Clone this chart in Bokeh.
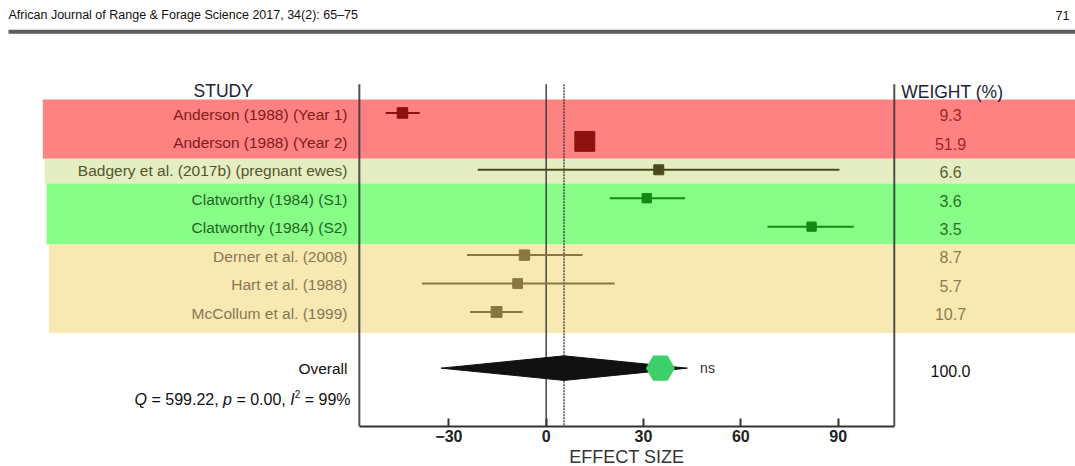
from bokeh.plotting import figure
from bokeh.models import Range1d, LinearAxis, FixedTicker, Label, Title
from bokeh.core.properties import value
from bokeh.embed import file_html
from bokeh.resources import INLINE

# ---------------- data ----------------
studies = [
    "Anderson (1988) (Year 1)",
    "Anderson (1988) (Year 2)",
    "Badgery et al. (2017b) (pregnant ewes)",
    "Clatworthy (1984) (S1)",
    "Clatworthy (1984) (S2)",
    "Derner et al. (2008)",
    "Hart et al. (1988)",
    "McCollum et al. (1999)",
]
groups = ["Anderson", "Anderson", "Badgery", "Clatworthy", "Clatworthy", "Other", "Other", "Other"]
effect_size = [-44.3, 11.9, 34.7, 31.0, 81.8, -6.7, -8.8, -15.3]
ci_lower = [-49.5, 9.5, -21.1, 19.6, 68.2, -24.4, -38.3, -23.5]
ci_upper = [-39.0, 14.3, 90.4, 42.8, 94.8, 11.2, 21.1, -7.3]
weight_pct = [9.3, 51.9, 6.6, 3.6, 3.5, 8.7, 5.7, 10.7]

overall_label = "Overall"
overall_effect = 5.5
overall_lower = -32.4
overall_upper = 43.5
overall_marker = 35.2
overall_note = "ns"
overall_weight = 100.0

x_ticks = [-30, 0, 30, 60, 90]
x_tick_labels = ["\u221230", "0", "30", "60", "90"]
x_limits = (-57.6, 107.3)
x_title = "EFFECT SIZE"

header_text = "African Journal of Range & Forage Science 2017, 34(2): 65\u201375"
page_number = "71"

# ---------------- styling / layout ----------------
band_groups = ["Anderson", "Badgery", "Clatworthy", "Other"]
style = {
    "Anderson":   dict(band="#FF8282", mark="#8C1111", text="#7E1B1B", wtext="#A32626"),
    "Badgery":    dict(band="#E4EEC2", mark="#4A4A1C", text="#55552A", wtext="#5E5E30"),
    "Clatworthy": dict(band="#88FD88", mark="#138A13", text="#1E661E", wtext="#227522"),
    "Other":      dict(band="#F8E9B2", mark="#8A7640", text="#8A7555", wtext="#8E7A50"),
}
band_edges = [0.53, 2.607, 3.484, 5.625, 8.74]
band_left_px = [42.3, 44.0, 46.0, 48.3]

W, H = 1075, 466
S = 3.244          # px per effect unit
ZERO_PX = 545.7    # page x of effect 0
ROW1_PX, ROW_H = 112.7, 28.5
FRAME_BOTTOM_PX = 427


def px2x(px):
    return (px - ZERO_PX) / S


def py2k(py):
    return 1 + (py - ROW1_PX) / ROW_H


X0, X1 = px2x(0), px2x(W)
Y_TOP, Y_BOT = py2k(0), py2k(FRAME_BOTTOM_PX)
rows = list(range(1, len(studies) + 1))
overall_row = py2k(368.5)

p = figure(width=W, height=H, x_range=Range1d(X0, X1), y_range=Range1d(Y_BOT, Y_TOP),
           output_backend="svg", toolbar_location=None,
           x_axis_location=None, y_axis_location=None,
           min_border_left=0, min_border_right=0, min_border_top=0,
           min_border_bottom=H - FRAME_BOTTOM_PX,
           outline_line_color=None, background_fill_color="white")
p.grid.visible = False

FONT = "Liberation Sans"

# header
p.segment(x0=[px2x(8)], x1=[X1], y0=[py2k(31.3)], y1=[py2k(31.3)], line_color="#5c5c5c", line_width=4)
p.add_layout(Label(x=8, y=FRAME_BOTTOM_PX - 15.5, x_units="screen", y_units="screen",
                   text=header_text, text_font=FONT, text_font_size="12.5px",
                   text_color="#111111", text_baseline="middle"))
p.add_layout(Label(x=W - 6, y=FRAME_BOTTOM_PX - 15.5, x_units="screen", y_units="screen",
                   text=page_number, text_font=FONT, text_font_size="12.5px",
                   text_color="#111111", text_baseline="middle", text_align="right"))

# bands
p.quad(left=[px2x(v) for v in band_left_px], right=[X1] * 4,
       top=band_edges[:-1], bottom=band_edges[1:],
       fill_color=[style[g]["band"] for g in band_groups], line_color=None)

# frame / reference lines
k_top = py2k(84)
p.segment(x0=[x_limits[0], x_limits[1], 0], x1=[x_limits[0], x_limits[1], 0],
          y0=[k_top] * 3, y1=[Y_BOT] * 3, line_color="#333333", line_width=[2, 2, 1.6], line_alpha=0.85)
p.segment(x0=[overall_effect], x1=[overall_effect], y0=[k_top], y1=[Y_BOT],
          line_color="#333333", line_width=1.3, line_dash="2 1")

# study CIs and markers
mark_cols = [style[g]["mark"] for g in groups]
p.segment(x0=ci_lower, x1=ci_upper, y0=rows, y1=rows, line_color=mark_cols, line_width=2)
sizes = [8.5 + 0.22 * w for w in weight_pct]
p.scatter(x=effect_size, y=rows, size=sizes, marker="square",
          fill_color=mark_cols, line_color=mark_cols)

# overall diamond and marker
h = 12.3 / ROW_H
p.patch(x=[overall_lower, overall_effect, overall_upper, overall_effect],
        y=[overall_row, overall_row - h, overall_row, overall_row + h],
        fill_color="#111111", line_color="#111111", line_width=1)
p.scatter(x=[overall_marker], y=[overall_row], marker="hex", size=29,
          fill_color="#3ED068", line_color=None)
p.text(x=[px2x(699.6)], y=[overall_row], text=[overall_note], text_font=value(FONT),
       text_font_size="14px", text_color="#333333", text_baseline="middle")

# study labels
p.text(x=[px2x(347)] * len(studies), y=[r + 0.04 for r in rows], text=studies,
       text_font=value(FONT), text_font_size="15.5px", text_align="right",
       text_baseline="middle", text_color=[style[g]["text"] for g in groups])
p.text(x=[px2x(347)], y=[overall_row + 0.03], text=[overall_label], text_font=value(FONT),
       text_font_size="15.5px", text_align="right", text_baseline="middle", text_color="#111111")

# weights
p.text(x=[px2x(950)] * len(studies), y=[r + 0.08 for r in rows],
       text=[f"{w:.1f}" for w in weight_pct], text_font=value(FONT), text_font_size="16px",
       text_align="center", text_baseline="middle", text_color=[style[g]["wtext"] for g in groups])
p.text(x=[px2x(950)], y=[overall_row + 0.1], text=[f"{overall_weight:.1f}"], text_font=value(FONT),
       text_font_size="16px", text_align="center", text_baseline="middle", text_color="#111111")

# column headers
p.text(x=[px2x(222.7)], y=[py2k(90.7)], text=["STUDY"], text_font=value(FONT),
       text_font_size="17.5px", text_align="center", text_baseline="middle", text_color="#222233")
p.text(x=[px2x(900.7)], y=[py2k(91.7)], text=["WEIGHT (%)"], text_font=value(FONT),
       text_font_size="17.5px", text_align="left", text_baseline="middle", text_color="#222233")

# heterogeneity line: Q = 599.22, p = 0.00, I² = 99%
F = 16.0
sp = 0.278 * F
pieces = [  # (text, em width, kind)
    ("Q", 0.778, "i"), ("= 599.22,", 4.198, "n"), ("p", 0.556, "i"), ("= 0.00,", 3.086, "n"),
    ("I", 0.278, "i"), ("2", 0.556, "s"), ("= 99%", 2.863, "n"),
]
widths = [em * (10.0 if kind == "s" else F) for t, em, kind in pieces]
gaps = [sp, sp, sp, sp, 0, sp, 0]
total = sum(widths) + sum(gaps)
xpos = []
cur = 350 - total
for wdt, g in zip(widths, gaps):
    xpos.append(cur)
    cur += wdt + g
q_y = py2k(399.5)
for (t, em, kind), xp in zip(pieces, xpos):
    if kind == "s":
        p.text(x=[px2x(xp)], y=[py2k(394.5)], text=[t], text_font=value(FONT), text_font_size="10px",
               text_baseline="middle", text_color="#111111")
    else:
        p.text(x=[px2x(xp)], y=[q_y], text=[t], text_font=value(FONT), text_font_size=f"{F}px",
               text_font_style="italic" if kind == "i" else "normal",
               text_baseline="middle", text_color="#111111")

# x axis
ax = LinearAxis(bounds=x_limits, ticker=FixedTicker(ticks=x_ticks),
                major_label_overrides={t: l for t, l in zip(x_ticks, x_tick_labels)})
ax.major_tick_in = 8
ax.major_tick_out = 0
ax.minor_tick_in = 0
ax.minor_tick_out = 0
ax.axis_line_width = 2
ax.axis_line_color = "#333333"
ax.major_tick_line_width = 2
ax.major_tick_line_color = "#333333"
ax.major_label_text_font = FONT
ax.major_label_text_font_size = "16px"
ax.major_label_text_font_style = "bold"
ax.major_label_text_color = "#222222"
ax.major_label_standoff = 3
p.add_layout(ax, "below")

# axis title, centred under the bounded axis
TITLE_FS = 18
axis_center_px = (ZERO_PX + S * x_limits[0] + ZERO_PX + S * x_limits[1]) / 2
title_width = 6.39 * TITLE_FS
p.add_layout(Title(text=x_title, align="left", offset=axis_center_px - title_width / 2, standoff=0,
                   text_font=FONT, text_font_size=f"{TITLE_FS}px", text_font_style="normal",
                   text_color="#333333"), "below")

open("out.html", "w").write(file_html(p, INLINE))
